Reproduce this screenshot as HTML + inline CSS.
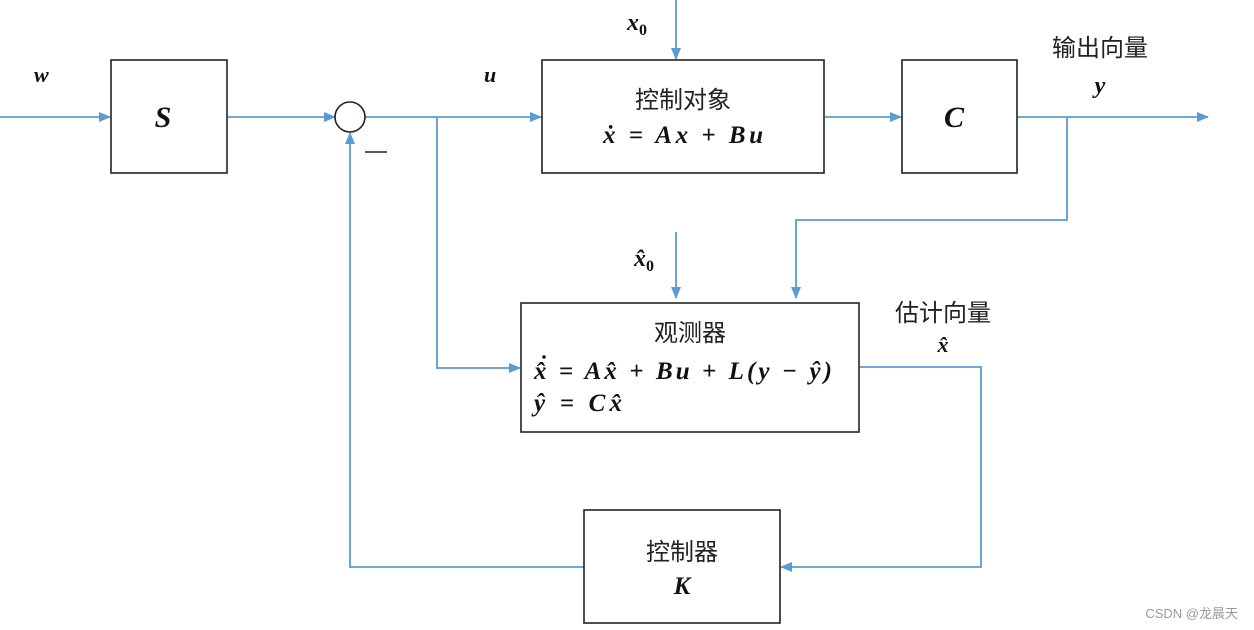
<!DOCTYPE html>
<html><head><meta charset="utf-8"><style>
html,body{margin:0;padding:0;background:#fff;}
svg{display:block;}
.m{font-family:"Liberation Serif",serif;font-weight:bold;font-style:italic;fill:#111;}
.c{font-family:"Liberation Sans","Noto Sans CJK SC",sans-serif;fill:#222;}
</style></head><body>
<svg width="1254" height="630" viewBox="0 0 1254 630" xmlns="http://www.w3.org/2000/svg">
<defs><marker id="a" markerWidth="12" markerHeight="10" refX="11" refY="5" orient="auto" markerUnits="userSpaceOnUse"><path d="M0,0 L12,5 L0,10 z" fill="#5b9bd5"/></marker></defs>
<g fill="none" stroke="#5b9bd5" stroke-width="1.8">
<line x1="0" y1="117" x2="110" y2="117" marker-end="url(#a)"/>
<line x1="228" y1="117" x2="335" y2="117" marker-end="url(#a)"/>
<line x1="365" y1="117" x2="541" y2="117" marker-end="url(#a)"/>
<line x1="825" y1="117" x2="901" y2="117" marker-end="url(#a)"/>
<line x1="1018" y1="117" x2="1208" y2="117" marker-end="url(#a)"/>
<line x1="676" y1="0" x2="676" y2="59" marker-end="url(#a)"/>
<polyline points="1067,117 1067,220 796,220 796,298" marker-end="url(#a)"/>
<line x1="676" y1="232" x2="676" y2="298" marker-end="url(#a)"/>
<polyline points="437,117 437,368 520,368" marker-end="url(#a)"/>
<polyline points="860,367 981,367 981,567 781,567" marker-end="url(#a)"/>
<polyline points="584,567 350,567 350,133" marker-end="url(#a)"/>
</g>
<g fill="#fff" stroke="#222" stroke-width="1.6">
<rect x="111" y="60" width="116" height="113"/>
<circle cx="350" cy="117" r="15"/>
<rect x="542" y="60" width="282" height="113"/>
<rect x="902" y="60" width="115" height="113"/>
<rect x="521" y="303" width="338" height="129"/>
<rect x="584" y="510" width="196" height="113"/>
</g>
<line x1="365" y1="152" x2="387" y2="152" stroke="#222" stroke-width="1.6"/>
<text class="m" x="34" y="82" font-size="22">w</text>
<text class="m" x="163" y="127" font-size="30" text-anchor="middle">S</text>
<text class="m" x="484" y="82" font-size="22">u</text>
<text class="m" x="627" y="30" font-size="24">x<tspan font-size="16" dy="5" font-style="normal">0</tspan></text>
<text class="c" x="683" y="108" font-size="24" text-anchor="middle">控制对象</text>
<text class="m" x="603" y="143" font-size="25" textLength="160" lengthAdjust="spacing">ẋ = Ax + Bu</text>
<text class="m" x="954" y="127" font-size="30" text-anchor="middle">C</text>
<text class="c" x="1100" y="56" font-size="24" text-anchor="middle">输出向量</text>
<text class="m" x="1100" y="93" font-size="24" text-anchor="middle">y</text>
<text class="m" x="634" y="266" font-size="24">x̂<tspan font-size="16" dy="5" font-style="normal">0</tspan></text>
<text class="c" x="690" y="341" font-size="24" text-anchor="middle">观测器</text>
<circle cx="544" cy="357" r="1.8" fill="#111"/>
<text class="m" x="534" y="379" font-size="25" textLength="298" lengthAdjust="spacing">x̂ = Ax̂ + Bu + L(y − ŷ)</text>
<text class="m" x="534" y="411" font-size="25" textLength="88" lengthAdjust="spacing">ŷ = Cx̂</text>
<text class="c" x="943" y="321" font-size="24" text-anchor="middle">估计向量</text>
<text class="m" x="943" y="352" font-size="22" text-anchor="middle">x̂</text>
<text class="c" x="682" y="560" font-size="24" text-anchor="middle">控制器</text>
<text class="m" x="682" y="594" font-size="25" text-anchor="middle">K</text>
<text x="1238" y="618" font-size="13" text-anchor="end" style="fill:#999;font-family:'Liberation Sans','Noto Sans CJK SC',sans-serif">CSDN @龙晨天</text>
</svg>
</body></html>
